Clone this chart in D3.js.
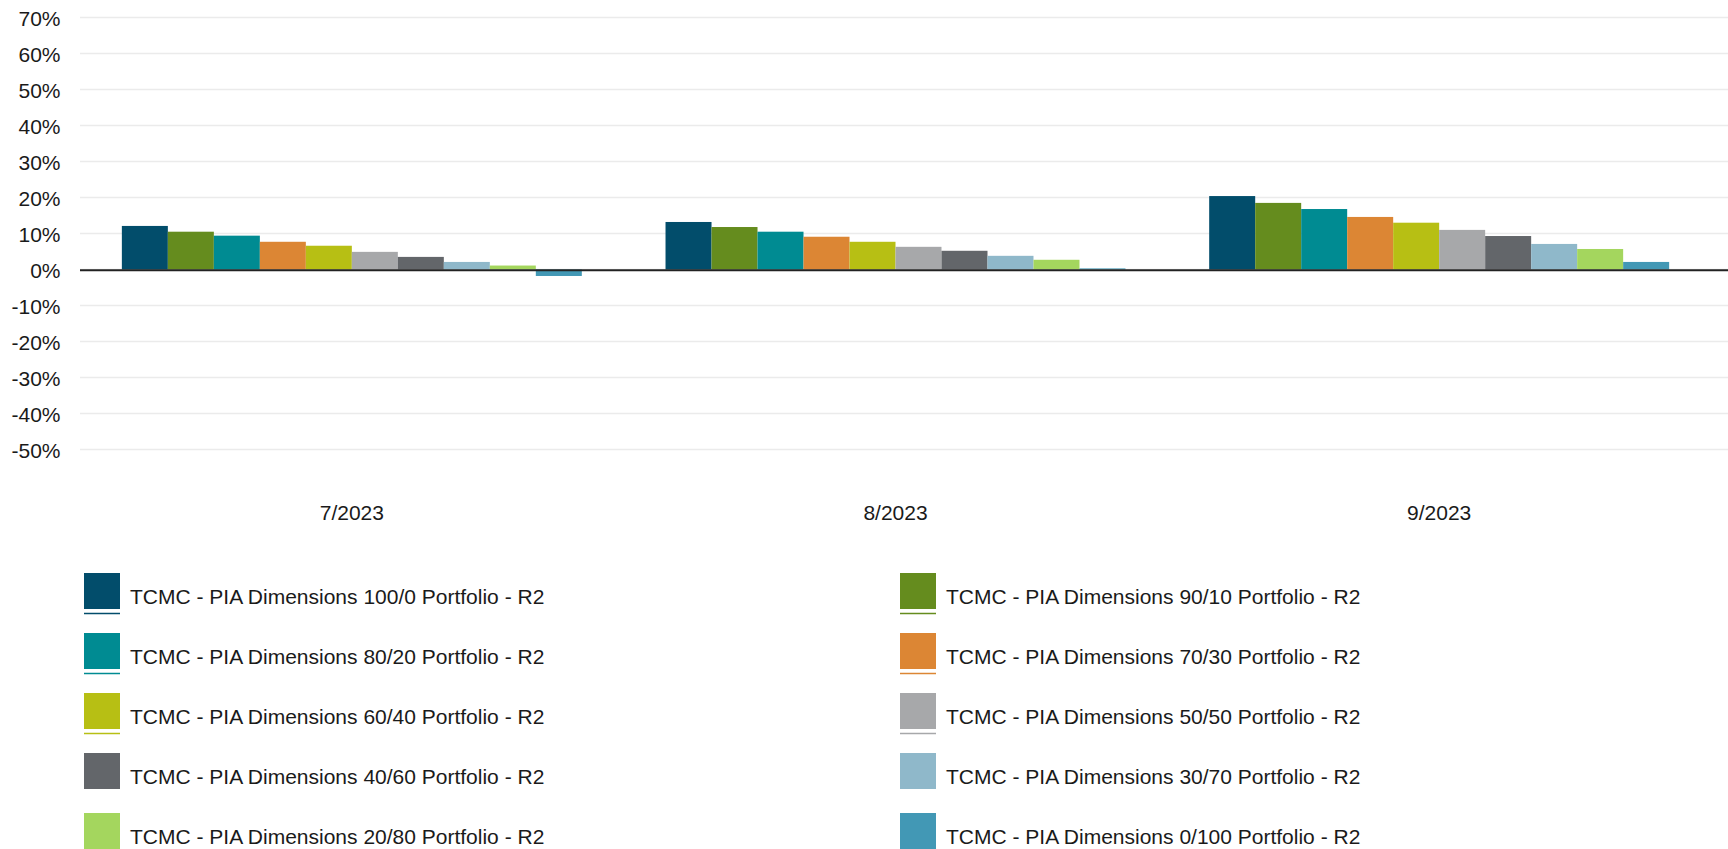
<!DOCTYPE html>
<html>
<head>
<meta charset="utf-8">
<script src="https://cdn.jsdelivr.net/npm/d3@7/dist/d3.min.js"></script>
<style>
  html, body { margin: 0; padding: 0; background: #fff; }
  svg { display: block; font-family: "Liberation Sans", Arial, sans-serif; }
</style>
</head>
<body>
<svg id="chart" width="1728" height="849"></svg>
<script>
// ---- data ----
const categories = ["7/2023", "8/2023", "9/2023"];
const seriesNames = [
  "TCMC - PIA Dimensions 100/0 Portfolio - R2",
  "TCMC - PIA Dimensions 90/10 Portfolio - R2",
  "TCMC - PIA Dimensions 80/20 Portfolio - R2",
  "TCMC - PIA Dimensions 70/30 Portfolio - R2",
  "TCMC - PIA Dimensions 60/40 Portfolio - R2",
  "TCMC - PIA Dimensions 50/50 Portfolio - R2",
  "TCMC - PIA Dimensions 40/60 Portfolio - R2",
  "TCMC - PIA Dimensions 30/70 Portfolio - R2",
  "TCMC - PIA Dimensions 20/80 Portfolio - R2",
  "TCMC - PIA Dimensions 0/100 Portfolio - R2"
];
const seriesColors = ["#024d6b", "#658c1e", "#008b92", "#dc8634", "#b7bf14",
                      "#a7a8aa", "#63666a", "#8fb8ca", "#a4d65e", "#4298b5"];
// values in percent, one array per category, in series order
const values_2023_07 = [12.1, 10.5, 9.4, 7.7, 6.6, 4.9, 3.5, 2.1, 1.1, -1.8];
const values_2023_08 = [13.2, 11.8, 10.5, 9.1, 7.7, 6.3, 5.2, 3.8, 2.7, 0.3];
const values_2023_09 = [20.4, 18.5, 16.8, 14.6, 13.0, 11.0, 9.3, 7.1, 5.7, 2.1];
const categoryValues = [values_2023_07, values_2023_08, values_2023_09];
const yTicks = [-50, -40, -30, -20, -10, 0, 10, 20, 30, 40, 50, 60, 70];
const underlinedSeries = 6; // legend entries drawn with an underline

// ---- layout ----
const svg = d3.select("#chart");
const plotLeft = 80, plotRight = 1711, gridRight = 1728;
const y = d3.scaleLinear().domain([-50, 70]).range([449.5, 17.5]);
const x0 = d3.scaleBand().domain(categories).range([plotLeft, plotRight]).padding(0);
const x1 = d3.scaleBand().domain(seriesNames).range([0, x0.bandwidth()])
  .paddingInner(0).paddingOuter(0.91);
const color = d3.scaleOrdinal().domain(seriesNames).range(seriesColors);

// gridlines
svg.append("g").selectAll("line").data(yTicks).join("line")
  .attr("x1", plotLeft).attr("x2", gridRight)
  .attr("y1", d => y(d)).attr("y2", d => y(d))
  .attr("stroke", "#ebebeb").attr("stroke-width", 1.6);

// y axis labels
const yAxis = d3.axisLeft(y).tickValues(yTicks).tickSize(0).tickPadding(0)
  .tickFormat(d => d + "%");
const yg = svg.append("g").attr("transform", `translate(60.5,0)`).call(yAxis);
yg.select(".domain").remove();
yg.selectAll("text").attr("font-size", 21).attr("fill", "#1a1a1a")
  .attr("font-family", "'Liberation Sans', Arial, sans-serif").attr("dy", "0.36em");

// bars
const groups = svg.append("g").selectAll("g").data(categories).join("g")
  .attr("transform", d => `translate(${x0(d)},0)`);
groups.selectAll("rect")
  .data((c, i) => seriesNames.map((s, j) => ({ s, v: categoryValues[i][j] })))
  .join("rect")
  .attr("x", d => x1(d.s))
  .attr("width", x1.bandwidth())
  .attr("y", d => y(Math.max(0, d.v)))
  .attr("height", d => Math.abs(y(d.v) - y(0)))
  .attr("fill", d => color(d.s));

// zero line
svg.append("line").attr("x1", plotLeft).attr("x2", gridRight)
  .attr("y1", y(0) + 0.8).attr("y2", y(0) + 0.8)
  .attr("stroke", "#222").attr("stroke-width", 2);

// x axis labels
const xAxis = d3.axisBottom(x0).tickSize(0).tickPadding(0);
const xg = svg.append("g").attr("transform", "translate(0,505)").call(xAxis);
xg.select(".domain").remove();
xg.selectAll("text").attr("font-size", 21).attr("fill", "#1a1a1a")
  .attr("font-family", "'Liberation Sans', Arial, sans-serif").attr("dy", "0.71em");

// legend
const legend = svg.append("g");
const legendItems = legend.selectAll("g").data(seriesNames).join("g")
  .attr("transform", (d, i) => `translate(${i % 2 === 0 ? 84 : 900},${573 + Math.floor(i / 2) * 60})`);
legendItems.append("rect").attr("width", 36).attr("height", 36).attr("fill", d => color(d));
legendItems.filter((d, i) => i < underlinedSeries).append("line")
  .attr("x1", 0).attr("x2", 36).attr("y1", 40.5).attr("y2", 40.5)
  .attr("stroke", d => color(d)).attr("stroke-width", 1.5);
legendItems.append("text").attr("x", 46).attr("y", 30.5)
  .attr("font-size", 21).attr("fill", "#1a1a1a").text(d => d);
</script>
</body>
</html>
